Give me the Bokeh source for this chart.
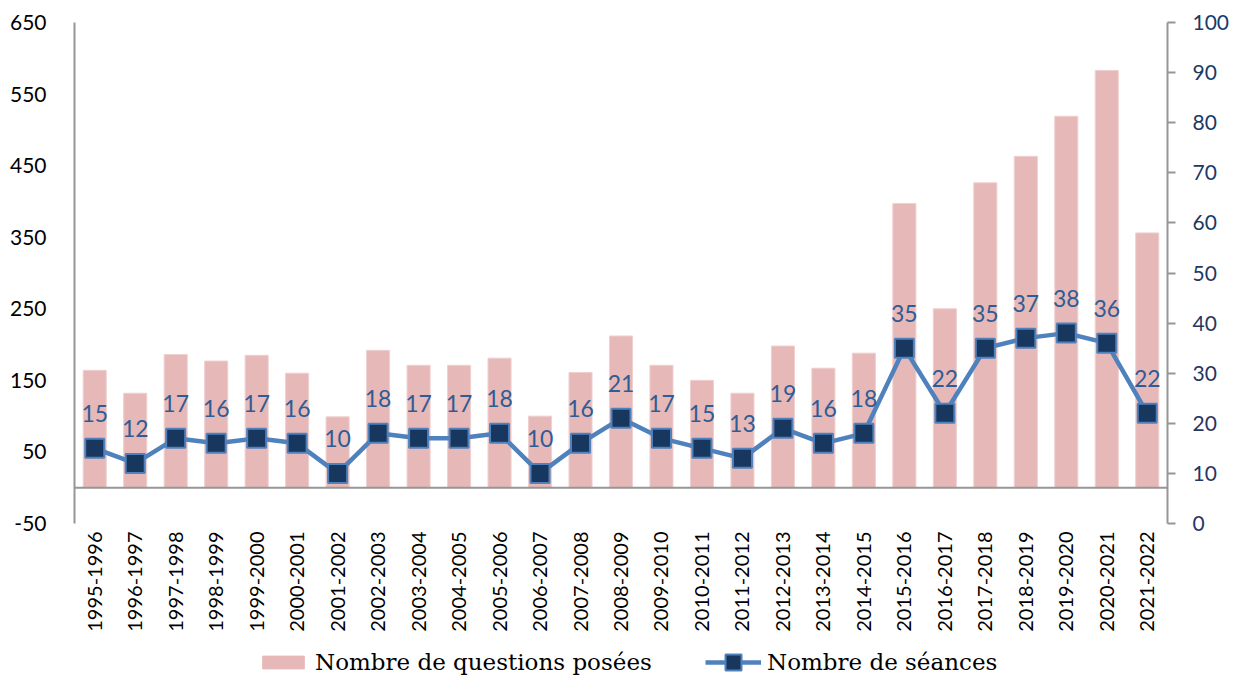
from bokeh.plotting import figure
from bokeh.models import (ColumnDataSource, Range1d, LinearAxis, FixedTicker, Span,
                          LabelSet, Legend, LegendItem, FactorRange)
from bokeh.core.properties import value
from bokeh.layouts import column
from bokeh.embed import file_html
from bokeh.resources import INLINE
from math import pi

categories = ["1995-1996", "1996-1997", "1997-1998", "1998-1999", "1999-2000",
              "2000-2001", "2001-2002", "2002-2003", "2003-2004", "2004-2005",
              "2005-2006", "2006-2007", "2007-2008", "2008-2009", "2009-2010",
              "2010-2011", "2011-2012", "2012-2013", "2013-2014", "2014-2015",
              "2015-2016", "2016-2017", "2017-2018", "2018-2019", "2019-2020",
              "2020-2021", "2021-2022"]
questions = [164, 132, 186, 177, 185, 160, 99, 192, 171, 171, 181, 100, 161, 212,
             171, 150, 132, 198, 167, 188, 397, 250, 426, 463, 519, 583, 356]
seances = [15, 12, 17, 16, 17, 16, 10, 18, 17, 17, 18, 10, 16, 21, 17, 15, 13,
           19, 16, 18, 35, 22, 35, 37, 38, 36, 22]
left_ticks = [-50, 50, 150, 250, 350, 450, 550, 650]
right_ticks = [0, 10, 20, 30, 40, 50, 60, 70, 80, 90, 100]
legend_labels = ["Nombre de questions posées", "Nombre de séances"]

BAR_FILL = "#E6B8B7"
BAR_LINE = "#EFD0CF"
LINE_COL = "#4F81BD"
MARK_FILL = "#17375E"
axis_gray = "#969696"
font = "Lato"

src = ColumnDataSource(dict(cat=categories, q=questions, s=seances,
                            lbl=[str(v) for v in seances]))

p = figure(x_range=FactorRange(*categories), y_range=Range1d(-50, 650),
           width=1244, height=634, output_backend="svg", toolbar_location=None,
           min_border_left=74, min_border_right=77, min_border_top=22,
           min_border_bottom=109)
p.outline_line_color = None
p.xgrid.visible = False
p.ygrid.visible = False

# left axis
la = p.yaxis[0]
la.ticker = FixedTicker(ticks=left_ticks)
la.major_label_overrides = {-50: "-50"}
la.major_tick_line_color = None
la.minor_tick_line_color = None
la.axis_line_color = axis_gray
la.axis_line_width = 2
la.major_label_text_font = font
la.major_label_text_font_size = "21px"
la.major_label_text_color = "#000000"
la.major_label_standoff = 22

# x axis
xa = p.xaxis[0]
xa.axis_line_color = None
xa.major_tick_line_color = None
xa.minor_tick_line_color = None
xa.major_label_orientation = pi / 2
xa.major_label_text_font = font
xa.major_label_text_font_size = "20px"
xa.major_label_text_color = "#000000"
xa.major_label_standoff = 2

# right axis
p.extra_y_ranges = {"right": Range1d(0, 100)}
ra = LinearAxis(y_range_name="right", ticker=FixedTicker(ticks=right_ticks))
ra.axis_line_color = axis_gray
ra.axis_line_width = 2
ra.major_tick_line_color = axis_gray
ra.major_tick_line_width = 2
ra.major_tick_out = 8
ra.major_tick_in = 0
ra.minor_tick_line_color = None
ra.major_label_text_font = font
ra.major_label_text_font_size = "21px"
ra.major_label_text_color = "#1F3864"
ra.major_label_standoff = 17
p.add_layout(ra, "right")

p.vbar(x="cat", top="q", bottom=0, width=0.57, source=src,
       fill_color=BAR_FILL, line_color=BAR_LINE, line_width=1)

p.add_layout(Span(location=0, dimension="width", line_color=axis_gray, line_width=2))

p.line(x="cat", y="s", source=src, y_range_name="right",
       line_color=LINE_COL, line_width=4.5)
p.scatter(x="cat", y="s", source=src, y_range_name="right", marker="square",
          size=19, fill_color=MARK_FILL, line_color=LINE_COL, line_width=2)

labels = LabelSet(x="cat", y="s", text="lbl", source=src, y_range_name="right",
                  y_offset=35, text_align="center", text_baseline="middle",
                  text_font=value(font), text_font_size="23px", text_color="#2E5C94")
p.add_layout(labels)

# legend strip (proxy renderers sit outside the visible range; only their legend glyphs show)
lf = figure(width=1244, height=48, output_backend="svg", toolbar_location=None,
            x_range=Range1d(0, 1), y_range=Range1d(0, 1),
            min_border_left=74, min_border_right=77, min_border_top=0, min_border_bottom=0)
lf.axis.visible = False
lf.grid.visible = False
lf.outline_line_color = None

proxy = ColumnDataSource(dict(x=[-5, -4], y=[-5, -4]))
rb = lf.vbar(x="x", top="y", width=0.5, source=proxy,
             fill_color=BAR_FILL, line_color=BAR_FILL)
rl = lf.line(x="x", y="y", source=proxy, line_color=LINE_COL, line_width=4.5)
rm = lf.scatter(x="x", y="y", source=proxy, marker="square", size=16,
                fill_color=MARK_FILL, line_color=LINE_COL, line_width=2)

common = dict(orientation="horizontal", label_text_font="DejaVu Serif",
              label_text_font_size="23px", label_text_color="#000000",
              label_standoff=6, border_line_color=None, background_fill_alpha=0,
              padding=0, margin=0)
leg1 = Legend(items=[LegendItem(label=legend_labels[0], renderers=[rb])],
              location=(183, 7), glyph_width=52, glyph_height=16, **common)
leg2 = Legend(items=[LegendItem(label=legend_labels[1], renderers=[rl, rm])],
              location=(631, 0), glyph_width=56, glyph_height=40, **common)
lf.add_layout(leg1)
lf.add_layout(leg2)

layout = column(p, lf, spacing=0)
open("out.html", "w").write(file_html(layout, INLINE))
